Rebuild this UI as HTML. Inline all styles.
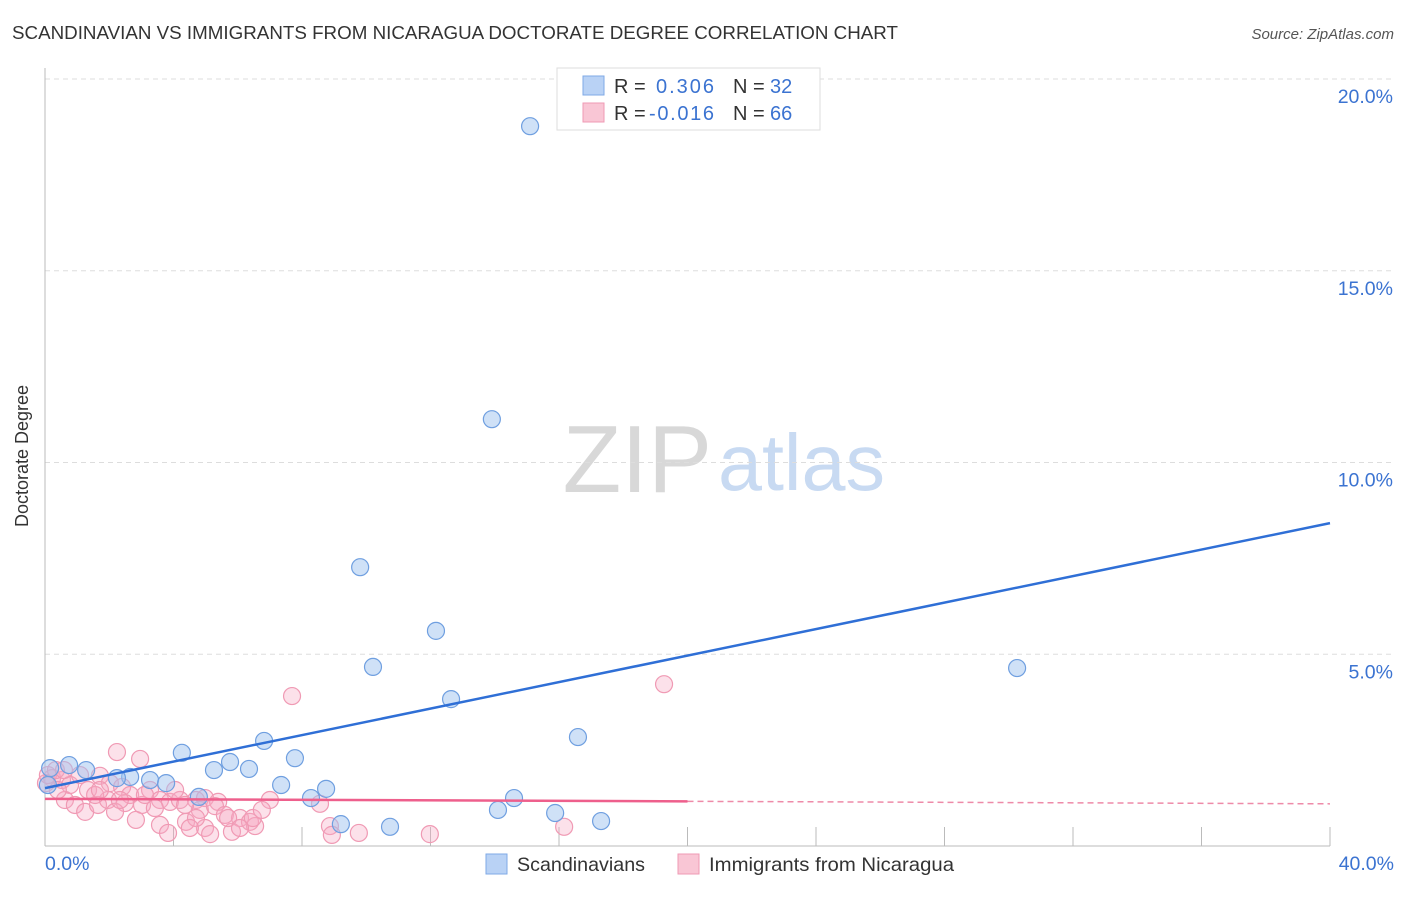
<!DOCTYPE html>
<html><head><meta charset="utf-8"><style>
body{margin:0;background:#fff;font-family:"Liberation Sans",sans-serif;}
svg text{font-family:"Liberation Sans",sans-serif;}
</style></head><body>
<svg id="chart" width="1406" height="892" xmlns="http://www.w3.org/2000/svg">
<text x="12" y="39" font-size="18.5" fill="#333" textLength="886" lengthAdjust="spacingAndGlyphs">SCANDINAVIAN VS IMMIGRANTS FROM NICARAGUA DOCTORATE DEGREE CORRELATION CHART</text>
<text x="1394" y="39" font-size="15" fill="#555" font-style="italic" text-anchor="end">Source: ZipAtlas.com</text>
<text x="28" y="456" font-size="18" fill="#333" text-anchor="middle" transform="rotate(-90 28 456)">Doctorate Degree</text>
<text x="712" y="492" font-size="96" fill="#d8d8d8" font-family="Liberation Serif" text-anchor="end">ZIP</text>
<text x="718" y="490" font-size="80" fill="#c8daf2" textLength="167" lengthAdjust="spacingAndGlyphs">atlas</text>
<g id="grid"></g><g id="axes"></g><g id="pts"></g><g id="trends"></g>
<g>
<rect x="557" y="68" width="263" height="62" fill="#fff" stroke="#ddd"/>
<rect x="583" y="76" width="21" height="19" fill="#b9d2f5" stroke="#7fa9e6"/>
<rect x="583" y="103" width="21" height="19" fill="#f9c6d5" stroke="#ef9ab4"/>
<text y="93" font-size="20" fill="#333"><tspan x="614">R = </tspan><tspan fill="#3b73d1" x="656" textLength="58">0.306</tspan><tspan x="733" fill="#333">N = </tspan><tspan fill="#3b73d1" x="770">32</tspan></text>
<text y="120" font-size="20" fill="#333"><tspan x="614">R = </tspan><tspan fill="#3b73d1" x="649" textLength="65">-0.016</tspan><tspan x="733" fill="#333">N = </tspan><tspan fill="#3b73d1" x="770">66</tspan></text>
</g>
<g>
<rect x="486" y="854" width="21" height="20" fill="#b9d2f5" stroke="#7fa9e6"/>
<text x="517" y="871" font-size="19.5" fill="#333" textLength="128" lengthAdjust="spacingAndGlyphs">Scandinavians</text>
<rect x="678" y="854" width="21" height="20" fill="#f9c6d5" stroke="#ef9ab4"/>
<text x="709" y="871" font-size="19.5" fill="#333" textLength="245" lengthAdjust="spacingAndGlyphs">Immigrants from Nicaragua</text>
</g>
</svg>
<script>
const xTicks=[0,4,8,12,16,20,24,28,32,36,40];
const yTicks=[5,10,15,20];
const yTickLabels=["5.0%","10.0%","15.0%","20.0%"];
const xLabels=["0.0%","40.0%"];
const blueX=[15.10,13.91,9.81,12.17,10.21,30.26,12.64,16.59,6.82,4.26,7.78,0.75,5.76,6.35,5.26,1.28,0.16,2.65,3.27,3.77,2.24,7.35,8.75,8.28,14.60,4.79,14.10,15.88,9.21,10.74,17.31,0.09];
const blueY=[18.77,11.13,7.27,5.61,4.67,4.64,3.83,2.84,2.74,2.43,2.29,2.11,2.19,2.01,1.98,1.98,2.03,1.80,1.72,1.64,1.77,1.59,1.49,1.25,1.25,1.28,0.94,0.86,0.57,0.50,0.65,1.59];
const pinkX=[7.69,2.24,2.96,19.27,0.22,0.53,0.78,1.09,1.71,2.02,2.40,2.65,3.27,3.58,3.89,4.20,4.70,4.98,5.39,0.62,0.93,1.25,1.65,1.96,2.49,3.02,3.42,4.82,5.29,5.60,6.07,6.38,6.54,7.00,8.56,0.40,1.34,0.03,2.83,3.58,3.83,4.39,4.98,5.14,5.82,6.47,5.70,4.70,4.51,8.87,8.93,9.77,11.98,16.16,0.09,0.34,1.56,3.11,4.05,4.36,6.07,2.18,6.75,1.71,0.59,2.33];
const pinkY=[3.91,2.45,2.27,4.22,1.77,1.72,1.59,1.85,1.83,1.64,1.54,1.33,1.46,1.20,1.15,1.20,1.20,1.25,1.15,1.20,1.07,0.89,1.07,1.20,1.12,1.07,0.99,0.94,1.04,0.81,0.73,0.63,0.52,1.20,1.10,1.46,1.46,1.64,0.68,0.55,0.34,0.63,0.47,0.31,0.37,0.73,0.73,0.73,0.47,0.52,0.29,0.34,0.31,0.50,1.85,1.98,1.33,1.33,1.46,1.07,0.47,0.89,0.94,1.46,1.98,1.20];
const blueTrend=[1.51,8.42];
const pinkTrend=[1.23,1.10];
const pinkSolidEnd=20;
const X=v=>45+v*32.125, Y=v=>846-v*38.35;
const NS="http://www.w3.org/2000/svg";
function mk(tag,attrs,parent){const e=document.createElementNS(NS,tag);for(const k in attrs)e.setAttribute(k,attrs[k]);document.getElementById(parent).appendChild(e);return e;}
yTicks.forEach((t,i)=>{
 const l=mk('line',{x1:45,x2:1394,y1:Y(t),y2:Y(t),stroke:'#ddd','stroke-dasharray':'5,4'},'grid');
 
 
 const tx=mk('text',{x:1393,y:Y(t)+24,'font-size':19.5,fill:'#3b73d1','text-anchor':'end'},'grid');
 tx.textContent=yTickLabels[i];
 
 
});
const ya=mk('line',{x1:45,x2:45,y1:68,y2:846,stroke:'#bbb'},'axes');


const xa=mk('line',{x1:45,x2:1330,y1:846,y2:846,stroke:'#bbb'},'axes');


xTicks.forEach(t=>{if(t===0)return;
 const l=mk('line',{x1:X(t),x2:X(t),y1:827,y2:846,stroke:'#bbb'},'axes');
 
 
});
[[0,'start',45],[40,'end',1394]].forEach((d,i)=>{
 const tx=mk('text',{x:d[2],y:870,'font-size':19.5,fill:'#3b73d1','text-anchor':d[1]},'axes');
 tx.textContent=xLabels[i];
 
 
});
pinkX.forEach((x,i)=>{
 const c=mk('circle',{cx:X(x),cy:Y(pinkY[i]),r:8.5,fill:'rgba(247,170,195,0.35)',stroke:'#f09ab4','stroke-width':1.2},'pts');
 
 
});
blueX.forEach((x,i)=>{
 const c=mk('circle',{cx:X(x),cy:Y(blueY[i]),r:8.5,fill:'rgba(160,195,240,0.5)',stroke:'#6f9fe0','stroke-width':1.2},'pts');
 
 
});
const bt=mk('line',{x1:X(0),y1:Y(blueTrend[0]),x2:X(40),y2:Y(blueTrend[1]),stroke:'#2f6fd6','stroke-width':2.5},'trends');


const pAt=v=>pinkTrend[0]+(pinkTrend[1]-pinkTrend[0])*v/40;
const pt=mk('line',{x1:X(0),y1:Y(pAt(0)),x2:X(pinkSolidEnd),y2:Y(pAt(pinkSolidEnd)),stroke:'#ee5f8c','stroke-width':2.5},'trends');


const pd=mk('line',{x1:X(pinkSolidEnd),y1:Y(pAt(pinkSolidEnd)),x2:X(40),y2:Y(pAt(40)),stroke:'#ee8aa8','stroke-width':1.5,'stroke-dasharray':'6,4'},'trends');


</script>
</body></html>
